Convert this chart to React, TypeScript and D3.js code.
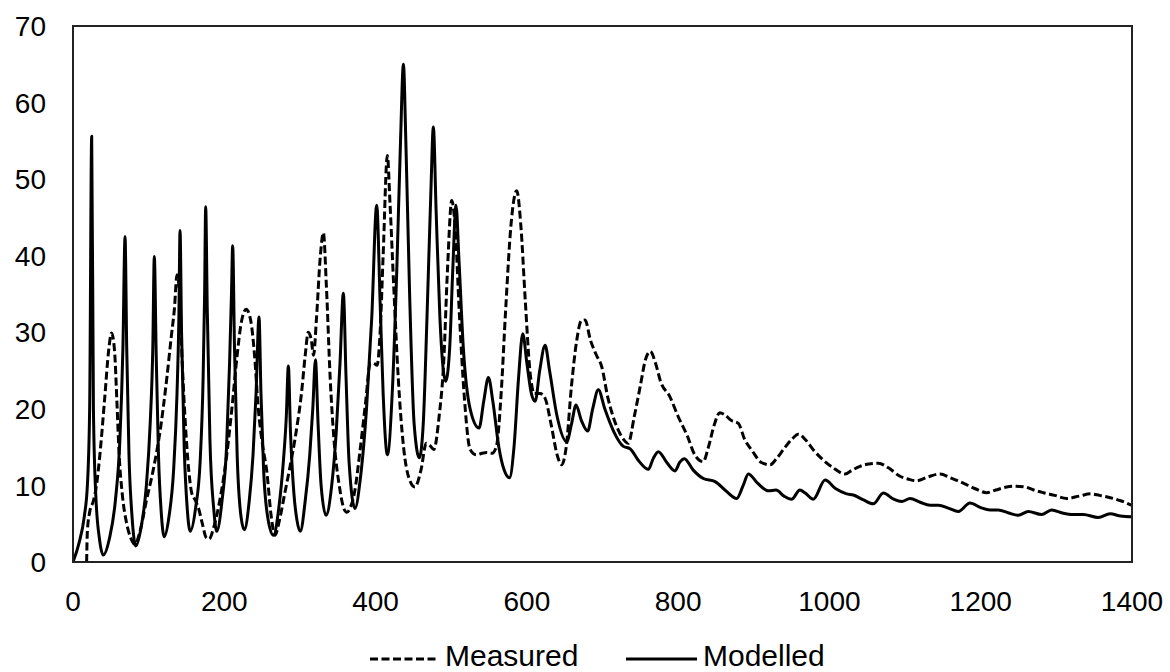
import React from "react";
import * as d3 from "d3";

// ---- Data ----
const xTicks = [0, 200, 400, 600, 800, 1000, 1200, 1400];
const yTicks = [0, 10, 20, 30, 40, 50, 60, 70];
const seriesNames = ["Measured", "Modelled"];

const measured: [number, number][] = [
  [18, 0], [19, 4], [22, 6.5], [27, 8], [31, 10], [36, 14.5], [42, 21.5], [47, 27.5], [51, 29.9],
  [55, 27.5], [58, 21], [61, 14], [65, 9], [71, 5], [77, 3], [82, 2.3], [88, 3.8], [97, 8],
  [106, 12], [115, 17], [124, 24], [130, 29.5], [134, 33], [137.5, 37.5], [141, 35], [144, 27],
  [148, 19], [153, 12], [157, 9], [162, 8], [166, 7], [171, 5], [176, 3.2], [180, 3], [186, 4.5],
  [193, 7.5], [202, 13], [210, 20], [217, 27], [222, 31], [229, 33], [235, 31.5], [240, 27],
  [245, 20], [251, 15], [256, 12], [262, 6], [267, 3.5], [273, 5.5], [280, 9], [287, 12.5],
  [295, 17], [302, 22], [307, 27], [311, 30], [315, 29], [318, 27], [322, 32], [327, 40],
  [331, 43], [335, 36], [340, 24], [345, 16], [352, 10], [358, 7], [362, 6.5], [367, 7.2],
  [372, 9], [380, 15], [387, 21], [393, 26], [397, 26], [402, 25.7], [406, 30], [410, 40],
  [415.6, 53.1], [419, 47], [424, 36], [430, 24], [437, 15], [444, 11], [452, 9.8], [460, 12],
  [467, 15.5], [472, 15.2], [477, 14.7], [484, 19], [490, 26], [495, 38], [500.7, 47.2],
  [505, 44], [511, 32], [517, 22], [525, 14.7], [533, 14], [541, 14.2], [547, 14.3], [554, 14.2],
  [560, 15.2], [566, 22], [572, 33], [579, 44], [586.6, 48.5], [592, 44], [598, 34], [604, 25],
  [610, 22], [617.5, 22], [624, 21.4], [632, 18], [640, 14], [646, 12.7], [652, 15], [659, 23],
  [666, 29], [672, 31.5], [677, 31.6], [684, 29], [692, 27], [699, 25.5], [707, 21.5], [714, 19],
  [721, 17.2], [728, 16], [734, 15.5], [742, 19], [750, 23], [757, 26.5], [763.2, 27.5],
  [770, 26], [777, 23.5], [789, 21.6], [800, 19], [812, 16.5], [822, 14], [833, 13.1],
  [840, 15], [848, 18], [855, 19.5], [862, 19.2], [870, 18.5], [879.6, 18.1], [888, 16],
  [898, 14.5], [910, 13], [921.5, 12.7], [930, 13.5], [940, 14.8], [950, 16], [958.9, 16.7],
  [968, 16], [980, 14.5], [992, 13.3], [1005, 12.3], [1020.6, 11.5], [1030, 12], [1040.5, 12.5],
  [1052, 12.8], [1064.7, 12.9], [1078, 12.3], [1093.3, 11.2], [1105, 10.8], [1115.4, 10.6],
  [1130, 11.1], [1146.2, 11.5], [1160, 11], [1177, 10.3], [1192, 9.6], [1207.9, 9.05],
  [1220, 9.4], [1234.3, 9.8], [1246, 9.9], [1258.6, 9.8], [1270, 9.4], [1282.8, 9.05],
  [1298, 8.7], [1313.7, 8.3], [1330, 8.6], [1345.4, 8.9], [1357, 8.7], [1367.4, 8.5],
  [1385, 8.0], [1400, 7.4],
];

const modelled: [number, number][] = [
  [0, 0], [8, 2.5], [15, 6], [19, 10], [22, 20], [24.7, 55.6], [27, 20], [30, 9], [35, 3],
  [40, 0.9], [48, 3], [56, 8], [62, 16], [66, 28], [68.8, 42.5], [71, 28], [74, 14], [78, 6],
  [83, 2.1], [90, 4.5], [97, 10], [102, 18], [105.5, 28], [107.5, 39.9], [110, 27], [113, 14],
  [117, 6], [120.5, 3.3], [127, 6], [133, 12], [137.5, 22], [140, 32], [141.5, 43.3],
  [143.5, 30], [147, 15], [151, 7], [155, 4], [162, 7], [168, 13], [172, 24], [174, 35],
  [175.4, 46.4], [177.5, 33], [181, 16], [186, 7], [190, 4], [197, 8], [203, 15], [207, 26],
  [209.5, 35], [211.1, 41.3], [213.5, 28], [217, 14], [222, 6], [226.5, 4.2], [233, 8],
  [238, 14], [242, 22], [245.9, 32], [248.5, 22], [252, 12], [258, 5.5], [265, 3.5], [272, 7],
  [278, 13], [282, 19], [284.7, 25.6], [287.5, 17], [292, 9], [296, 5.5], [300.5, 4.0],
  [307, 8], [313, 14], [317, 20], [320.5, 26.4], [324, 18], [328, 10], [334.5, 6.1], [342, 10],
  [348, 17], [353, 26], [357.4, 35.1], [361, 24], [365, 13], [372.8, 7], [380, 11], [388, 20],
  [395, 32], [401.5, 46.6], [406, 34], [410, 22], [415.6, 14], [422, 22], [428, 38], [433, 55],
  [436.8, 65], [440, 55], [445, 35], [451, 18], [457.9, 13.6], [463, 18], [468, 32], [473, 48],
  [476.4, 56.8], [480, 46], [485, 32], [492.7, 23.6], [498, 28], [502, 38], [506.4, 46.6],
  [510, 40], [516, 28], [525, 20], [536.8, 17.5], [543, 21], [549.2, 24.1], [555, 21],
  [563, 15], [570, 12], [577, 11], [583, 15], [589, 24], [594.6, 29.8], [600, 26], [606, 22],
  [611, 21], [617, 25], [624.1, 28.3], [630, 25], [640, 19], [652.7, 15.7], [659, 18],
  [665, 20.5], [672, 18.5], [680.4, 17.1], [687, 20], [694.5, 22.5], [703, 20], [715, 17],
  [727.6, 15.1], [736.4, 14.8], [748, 13.2], [760.6, 12.1], [767, 13.5], [773.8, 14.4],
  [785, 13], [795.9, 11.9], [802, 13], [808.2, 13.5], [820, 12], [833.3, 10.9], [848.8, 10.5],
  [863, 9.3], [877.4, 8.3], [886, 10], [892.8, 11.5], [905, 10.3], [919.2, 9.3], [929.4, 9.4],
  [940, 8.6], [950, 8.2], [961, 9.4], [968, 9.0], [978.7, 8.2], [994.2, 10.7], [1008, 9.6],
  [1022.8, 8.9], [1031.6, 8.75], [1045, 8.1], [1058, 7.6], [1071.3, 9.0], [1085, 8.2],
  [1095.6, 7.9], [1106.6, 8.3], [1120, 7.8], [1133, 7.4], [1144, 7.4], [1158, 7.0],
  [1170.4, 6.6], [1185.8, 7.7], [1200, 7.1], [1212.3, 6.8], [1223.3, 6.8], [1237, 6.4],
  [1249.7, 6.1], [1262.9, 6.6], [1280.5, 6.2], [1293.8, 6.8], [1308, 6.4], [1322.4, 6.2],
  [1335.7, 6.2], [1355.5, 5.8], [1371, 6.3], [1385, 6.0], [1400, 5.9],
];

// ---- Layout ----
const W = 1170;
const H = 672;
const M = { left: 73, right: 1132, top: 26, bottom: 562 };
const FONT = "'Liberation Sans', Arial, sans-serif";
const FS = 28;
const LEG_FS = 30;
const DASH = "8,3.5";

export default function App() {
  const x = d3.scaleLinear().domain([0, 1400]).range([M.left, M.right]);
  const y = d3.scaleLinear().domain([0, 70]).range([M.bottom, M.top]);
  const line = d3
    .line<[number, number]>()
    .x((d) => x(d[0]))
    .y((d) => y(d[1]))
    .curve(d3.curveMonotoneX);

  return (
    <svg
      width={W}
      height={H}
      style={{ position: "fixed", left: 0, top: 0, background: "#fff" }}
      fontFamily={FONT}
    >
      <rect x={0} y={0} width={W} height={H} fill="#fff" />
      <defs>
        <clipPath id="plotclip">
          <rect x={M.left} y={M.top - 2} width={M.right - M.left} height={M.bottom - M.top + 2} />
        </clipPath>
      </defs>

      <g clipPath="url(#plotclip)">
        <path d={line(measured) || ""} fill="none" stroke="#000" strokeWidth={3} strokeDasharray={DASH} />
        <path d={line(modelled) || ""} fill="none" stroke="#000" strokeWidth={3} strokeLinejoin="round" />
      </g>

      <rect
        x={M.left}
        y={M.top}
        width={M.right - M.left}
        height={M.bottom - M.top}
        fill="none"
        stroke="#222"
        strokeWidth={2}
      />

      {yTicks.map((t) => (
        <text key={"y" + t} x={46} y={y(t)} dy="0.36em" textAnchor="end" fontSize={FS} fill="#000">
          {t}
        </text>
      ))}
      {xTicks.map((t) => (
        <text key={"x" + t} x={x(t)} y={611} textAnchor="middle" fontSize={FS} fill="#000">
          {t}
        </text>
      ))}

      {/* Legend */}
      <line x1={370} x2={439} y1={659} y2={659} stroke="#000" strokeWidth={3} strokeDasharray={DASH} />
      <text x={445} y={666} fontSize={LEG_FS} fill="#000">{seriesNames[0]}</text>
      <line x1={626} x2={697} y1={659} y2={659} stroke="#000" strokeWidth={3} />
      <text x={703} y={666} fontSize={LEG_FS} fill="#000">{seriesNames[1]}</text>
    </svg>
  );
}
